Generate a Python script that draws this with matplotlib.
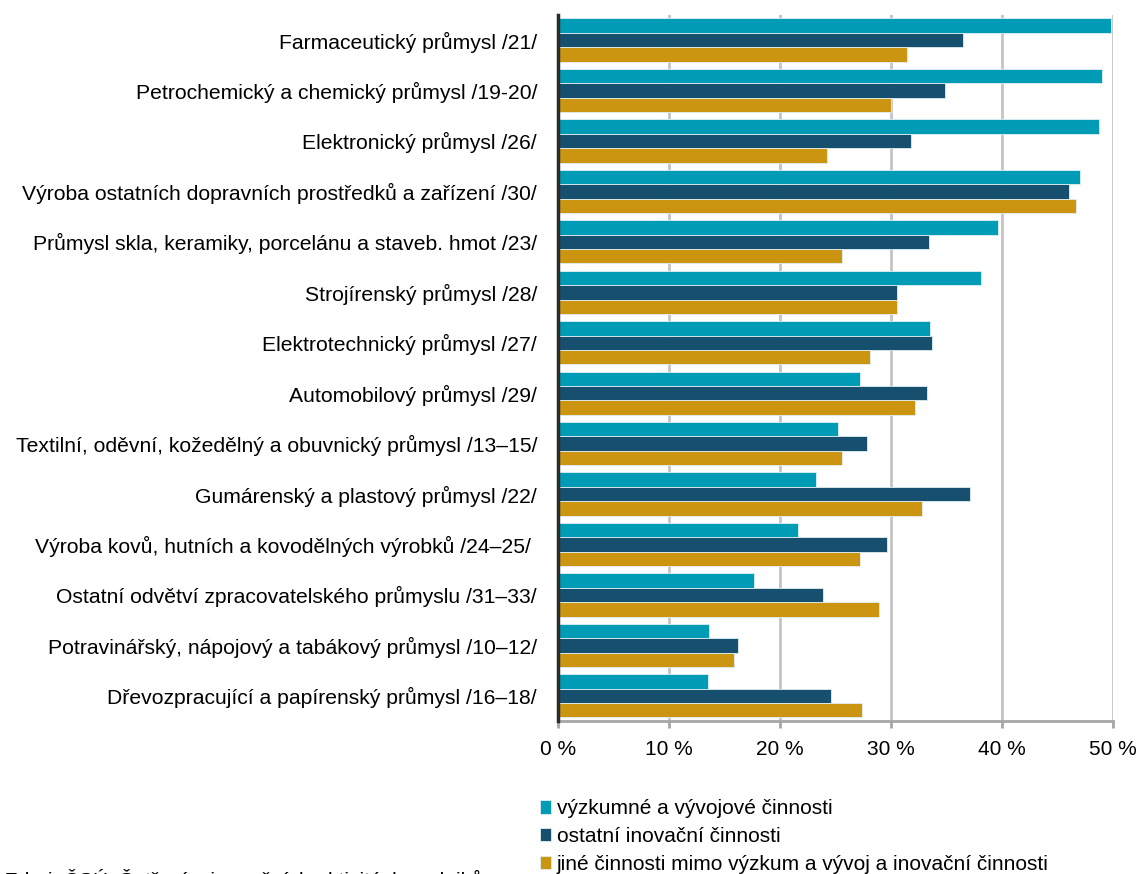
import matplotlib.pyplot as plt
import numpy as np

plt.rcParams['font.family'] = ['Liberation Sans', 'DejaVu Sans']

odvetvi = [
    'Farmaceutický průmysl /21/',
    'Petrochemický a chemický průmysl /19-20/',
    'Elektronický průmysl /26/',
    'Výroba ostatních dopravních prostředků a zařízení /30/',
    'Průmysl skla, keramiky, porcelánu a staveb. hmot /23/',
    'Strojírenský průmysl /28/',
    'Elektrotechnický průmysl /27/',
    'Automobilový průmysl /29/',
    'Textilní, oděvní, kožedělný a obuvnický průmysl /13–15/',
    'Gumárenský a plastový průmysl /22/',
    'Výroba kovů, hutních a kovodělných výrobků /24–25/ ',
    'Ostatní odvětví zpracovatelského průmyslu /31–33/',
    'Potravinářský, nápojový a tabákový průmysl /10–12/',
    'Dřevozpracující a papírenský průmysl /16–18/',
]
vyzkum = [49.8, 49.0, 48.7, 47.0, 39.6, 38.1, 33.5, 27.2, 25.2, 23.2, 21.6, 17.7, 13.6, 13.5]
ostatni = [36.5, 34.9, 31.8, 46.0, 33.4, 30.5, 33.7, 33.2, 27.8, 37.1, 29.6, 23.9, 16.2, 24.6]
jine = [31.4, 30.0, 24.2, 46.7, 25.6, 30.5, 28.1, 32.2, 25.6, 32.8, 27.2, 28.9, 15.9, 27.4]

serie = ['výzkumné a vývojové činnosti',
         'ostatní inovační činnosti',
         'jiné činnosti mimo výzkum a vývoj a inovační činnosti']
barvy = ['#009bb5', '#17506f', '#cc9511']

fig = plt.figure(figsize=(11.41, 8.74), dpi=100)
ax = fig.add_axes([0.489, 0.175, 0.4865, 0.808])

y = np.arange(len(odvetvi))
h = 0.286
for i, (vals, lab, c) in enumerate(zip([vyzkum, ostatni, jine], serie, barvy)):
    ax.barh(y + (i - 1) * h, vals, height=h, color=c, label=lab,
            edgecolor='#dfeff3', linewidth=0.6, zorder=3)

ax.set_ylim(len(odvetvi) - 0.5, -0.5)
ax.set_xlim(0, 50)
ax.set_xticks(range(0, 51, 10))
ax.set_xticklabels([f'{v} %' for v in range(0, 51, 10)], fontsize=15)
ax.set_yticks(y)
ax.set_yticklabels(odvetvi, fontsize=15.2)
ax.tick_params(axis='y', length=0, pad=15)
ax.tick_params(axis='x', length=5, width=2, color='#a6a6a6', pad=9)
ax.grid(axis='x', color='#c4c4c4', linewidth=2, zorder=0)
ax.set_axisbelow(True)
for s in ['top', 'right']:
    ax.spines[s].set_visible(False)
ax.spines['left'].set_color('#2b2b2b')
ax.spines['left'].set_linewidth(2.5)
ax.spines['left'].set_zorder(4)
ax.spines['bottom'].set_color('#a6a6a6')
ax.spines['bottom'].set_linewidth(2)

fig.legend(loc='upper left', bbox_to_anchor=(0.466, 0.095), frameon=False,
           fontsize=15, handlelength=0.55, handleheight=0.6, handletextpad=0.25,
           labelspacing=0.42, borderaxespad=0)

fig.text(0.004, 0.006, 'Zdroj: ČSÚ, Šetření o inovačních aktivitách podniků',
         fontsize=15, va='top', ha='left')

plt.savefig('out.png', dpi=100)
